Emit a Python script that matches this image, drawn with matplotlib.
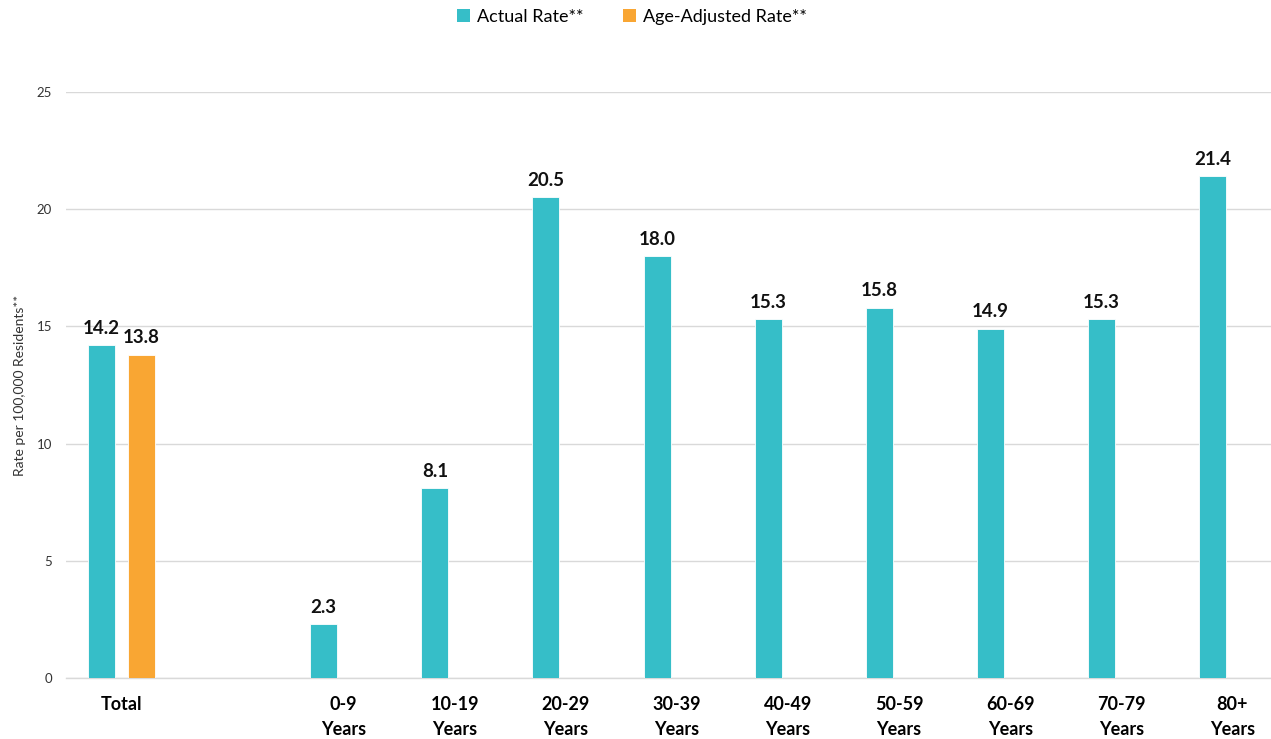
import matplotlib
matplotlib.use("Agg")
import matplotlib.pyplot as plt
from matplotlib.patches import Patch
import numpy as np

plt.rcParams["font.family"] = ["Lato", "DejaVu Sans"]

categories = ["Total", "", "0-9\nYears", "10-19\nYears", "20-29\nYears", "30-39\nYears",
              "40-49\nYears", "50-59\nYears", "60-69\nYears", "70-79\nYears", "80+\nYears"]
actual_rate = [14.2, None, 2.3, 8.1, 20.5, 18.0, 15.3, 15.8, 14.9, 15.3, 21.4]
age_adjusted_rate = [13.8, None, None, None, None, None, None, None, None, None, None]

TEAL = "#36BEC8"
ORANGE = "#F9A633"
GRID = "#D9D9D9"

fig = plt.figure(figsize=(12.71, 7.39), dpi=100)
ax = fig.add_axes([66 / 1271, 61 / 739, 1 - 66 / 1271, (678 - 92) / 739])

x = np.arange(len(categories))
width = 0.243
offset = 0.18

def draw_series(values, shift, color):
    for xi, v in zip(x, values):
        if v is None:
            continue
        ax.bar(xi + shift, v, width=width, color=color, edgecolor="white", linewidth=0.6, zorder=3)
        ax.annotate(f"{v:.1f}", (xi + shift, v), xytext=(0, 6), textcoords="offset points",
                    ha="center", va="bottom", fontsize=13.5, fontweight="bold", color="#111111")

draw_series(actual_rate, -offset, TEAL)
draw_series(age_adjusted_rate, offset, ORANGE)

ax.set_xlim(-0.5, 10.5 - 17 / 111.1)
ax.set_ylim(0, 25)
ax.set_yticks([0, 5, 10, 15, 20, 25])
ax.set_xticks(x)
ax.set_xticklabels(categories, fontsize=13, fontweight="bold", linespacing=1.6)
ax.tick_params(axis="x", length=0, pad=13)
ax.tick_params(axis="y", length=0, pad=10, labelsize=9.5, labelcolor="#333333")

ax.grid(axis="y", color=GRID, linewidth=1, zorder=0)
for side in ["top", "right", "left"]:
    ax.spines[side].set_visible(False)
ax.spines["bottom"].set_color(GRID)
ax.spines["bottom"].set_linewidth(1)

fig.text(20 / 1271, 1 - 385 / 739, "Rate per 100,000 Residents**", rotation=90,
         ha="center", va="center", fontsize=10, color="#333333")

handles = [Patch(facecolor=TEAL, label="Actual Rate**"),
           Patch(facecolor=ORANGE, label="Age-Adjusted Rate**")]
fig.legend(handles=handles, loc="center", bbox_to_anchor=(632 / 1271, 1 - 17 / 739), ncol=2,
           frameon=False, fontsize=13, handlelength=0.7, handleheight=0.7,
           handletextpad=0.4, columnspacing=2.2)

fig.savefig("out.png", dpi=100)
